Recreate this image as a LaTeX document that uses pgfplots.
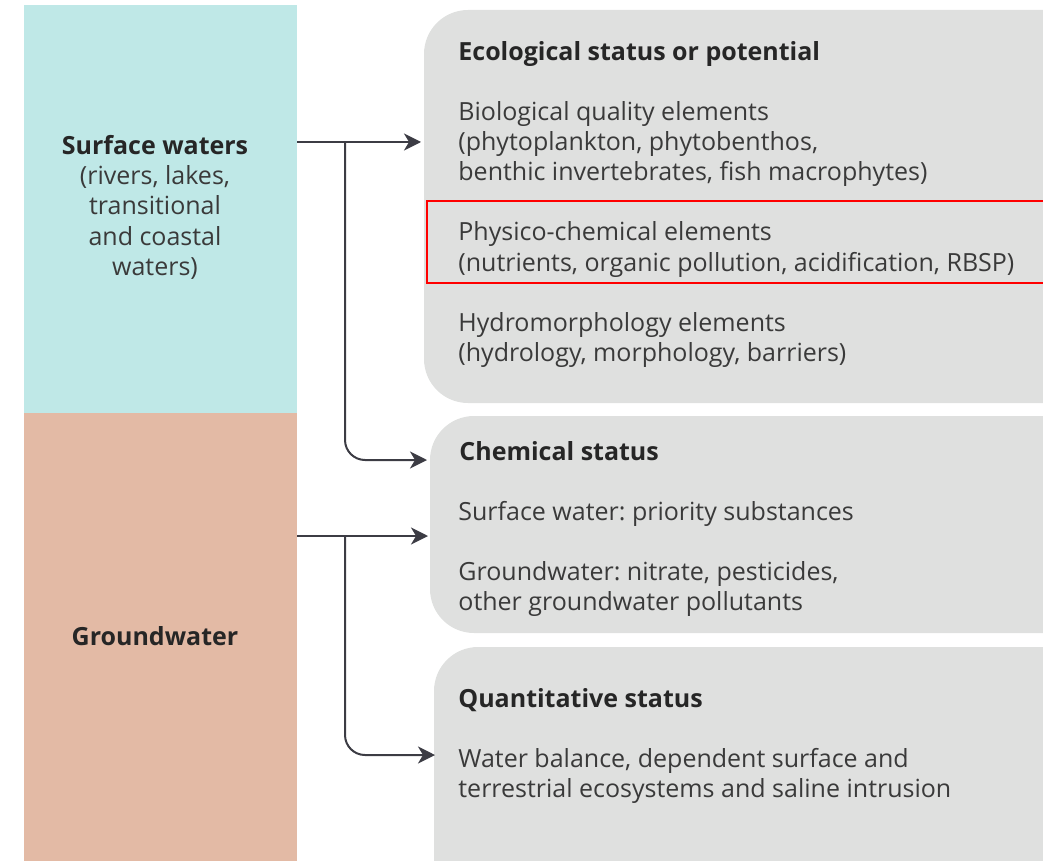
\documentclass[border=0pt]{standalone}
\usepackage{pgfplots}
\pgfplotsset{compat=1.18}
\usepackage{fontspec}
\setmainfont{Open Sans}
\frenchspacing
\usetikzlibrary{arrows.meta}
\definecolor{teal}{HTML}{BFE8E7}
\definecolor{salmon}{HTML}{E3BAA5}
\definecolor{boxgray}{HTML}{DFE0DF}
\definecolor{txt}{HTML}{3A3A3A}
\definecolor{hdr}{HTML}{262626}
\definecolor{arr}{HTML}{3C3C44}
\begin{document}
\begin{tikzpicture}
\begin{axis}[
  scale only axis, width=521.5pt, height=430.5pt,
  xmin=0, xmax=1043, ymin=0, ymax=861, y dir=reverse,
  axis lines=none, clip=true,
]
% left panels
\fill[teal] (axis cs:24,5) rectangle (axis cs:297,413);
\fill[salmon] (axis cs:24,413) rectangle (axis cs:297,900);
% gray boxes
\fill[boxgray, rounded corners=22pt] (axis cs:424,10) rectangle (axis cs:1100,403);
\fill[boxgray, rounded corners=22pt] (axis cs:430,416) rectangle (axis cs:1100,633);
\fill[boxgray, rounded corners=22pt] (axis cs:434,647) rectangle (axis cs:1100,920);
% red highlight
\draw[red, line width=1pt] (axis cs:427,201) rectangle (axis cs:1060,283);
% arrows
\draw[arr, line width=1pt, -{Stealth[length=8.5pt,width=8.5pt,inset=2.5pt]}] (axis cs:297,142) -- (axis cs:421,142);
\draw[arr, line width=1pt, rounded corners=10pt, -{Stealth[length=8.5pt,width=8.5pt,inset=2.5pt]}] (axis cs:345,142) |- (axis cs:427,460);
\draw[arr, line width=1pt, -{Stealth[length=8.5pt,width=8.5pt,inset=2.5pt]}] (axis cs:297,536) -- (axis cs:428,536);
\draw[arr, line width=1pt, rounded corners=10pt, -{Stealth[length=8.5pt,width=8.5pt,inset=2.5pt]}] (axis cs:345,536) |- (axis cs:435,755);
% left texts
\begin{scope}[every node/.style={anchor=base, inner sep=0pt, font=\fontsize{12.5pt}{14pt}\selectfont, text=txt}]
\node[font=\fontsize{12.5pt}{14pt}\selectfont\bfseries, text=hdr] at (axis cs:155,155) {Surface waters};
\node at (axis cs:155,185) {(rivers, lakes,};
\node at (axis cs:155,215) {transitional};
\node at (axis cs:155,245) {and coastal};
\node at (axis cs:155,275) {waters)};
\node[font=\fontsize{12.5pt}{14pt}\selectfont\bfseries, text=hdr] at (axis cs:155,645) {Groundwater};
\end{scope}
% right texts
\begin{scope}[every node/.style={anchor=base west, inner sep=0pt, font=\fontsize{12.5pt}{14pt}\selectfont, text=txt}]
\node[font=\fontsize{12.5pt}{14pt}\selectfont\bfseries, text=hdr] at (axis cs:458,61) {Ecological status or potential};
\node at (axis cs:458,121) {Biological quality elements};
\node at (axis cs:458,151) {(phytoplankton, phytobenthos,};
\node at (axis cs:458,181) {benthic invertebrates, fish macrophytes)};
\node at (axis cs:458,241) {Physico-chemical elements};
\node at (axis cs:458,271) {(nutrients, organic pollution, acidification, RBSP)};
\node at (axis cs:458,331) {Hydromorphology elements};
\node at (axis cs:458,361) {(hydrology, morphology, barriers)};
\node[font=\fontsize{12.5pt}{14pt}\selectfont\bfseries, text=hdr] at (axis cs:459,460) {Chemical status};
\node at (axis cs:458,520) {Surface water: priority substances};
\node at (axis cs:458,580) {Groundwater: nitrate, pesticides,};
\node at (axis cs:458,610) {other groundwater pollutants};
\node[font=\fontsize{12.5pt}{14pt}\selectfont\bfseries, text=hdr] at (axis cs:458,707) {Quantitative status};
\node at (axis cs:458,767) {Water balance, dependent surface and};
\node at (axis cs:458,797) {terrestrial ecosystems and saline intrusion};
\end{scope}
\end{axis}
\pgfresetboundingbox
\path (0,0) rectangle (521.5pt,430.5pt);
\end{tikzpicture}
\end{document}
